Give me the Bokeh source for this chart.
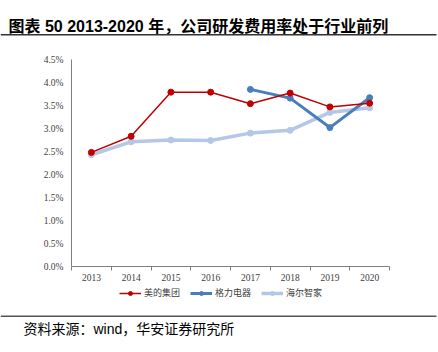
from bokeh.plotting import figure
from bokeh.models import (ColumnDataSource, Label, Legend, LegendItem, FixedTicker,
                          NumeralTickFormatter, Range1d, BoxAnnotation)
from bokeh.embed import file_html
from bokeh.resources import INLINE

years = [2013, 2014, 2015, 2016, 2017, 2018, 2019, 2020]
midea = [0.0248, 0.0283, 0.0379, 0.0379, 0.0354, 0.0377, 0.0347, 0.0355]
gree_years = [2017, 2018, 2019, 2020]
gree = [0.0385, 0.0366, 0.0302, 0.0367]
haier = [0.0243, 0.0271, 0.0275, 0.0274, 0.0290, 0.0296, 0.0335, 0.0345]
series_names = ["美的集团", "格力电器", "海尔智家"]
title_text = "图表 50 2013-2020 年，公司研发费用率处于行业前列"
source_text = "资料来源：wind，华安证券研究所"

W = 438
serif = "Liberation Serif"
cjk = "Noto Sans CJK SC"
mixed = "Liberation Sans, Noto Sans CJK SC"
c_midea, c_gree, c_haier = "#C00000", "#4A7EBB", "#B4C7E7"


def blank(h):
    f = figure(width=W, height=h, output_backend="svg", toolbar_location=None, title=None,
               x_axis_location=None, y_axis_location=None,
               x_range=Range1d(0, W), y_range=Range1d(0, h),
               min_border=0, min_border_left=0, min_border_right=0,
               min_border_top=0, min_border_bottom=0)
    f.outline_line_color = None
    f.grid.grid_line_color = None
    f.background_fill_color = "white"
    f.border_fill_color = "white"
    return f


# ---- top: title + rule
H1 = 38
top = blank(H1)
top.add_layout(Label(x=8, y=H1 - 25.5, x_units="screen", y_units="screen", text=title_text,
                     text_font=mixed, text_font_style="bold", text_font_size="16px",
                     text_color="black", text_baseline="middle"))
top.add_layout(BoxAnnotation(left=0, right=436, bottom=H1 - 35, top=H1 - 33.5,
                             fill_color="#333333", fill_alpha=1, line_color=None))

# ---- main chart
H2 = 248
FL, FR = 71, 389
p = figure(width=W, height=H2, output_backend="svg", toolbar_location=None, title=None,
           x_range=Range1d(2012.5, 2020.5), y_range=Range1d(0, 0.045),
           min_border_left=FL, min_border_right=W - FR,
           min_border_top=21, min_border_bottom=20)
p.outline_line_color = None
p.grid.grid_line_color = None
p.background_fill_color = "white"
p.border_fill_color = "white"

p.xaxis.ticker = FixedTicker(ticks=years, minor_ticks=[y - 0.5 for y in years] + [2020.5])
p.xaxis.major_tick_line_color = None
p.xaxis.major_tick_out = 2
p.xaxis.major_tick_in = 0
p.xaxis.minor_tick_line_color = "#7f7f7f"
p.xaxis.minor_tick_out = 4
p.xaxis.minor_tick_in = 0
p.xaxis.axis_line_color = "#7f7f7f"
p.xaxis.major_label_text_font = serif
p.xaxis.major_label_text_font_size = "9.5px"
p.xaxis.major_label_text_color = "#404040"
p.xaxis.major_label_standoff = 3

p.yaxis.ticker = FixedTicker(ticks=[i * 0.005 for i in range(10)])
p.yaxis.formatter = NumeralTickFormatter(format="0.0%")
p.yaxis.major_tick_line_color = None
p.yaxis.major_tick_out = 2
p.yaxis.major_tick_in = 0
p.yaxis.minor_tick_line_color = None
p.yaxis.axis_line_color = "#7f7f7f"
p.yaxis.major_label_text_font = serif
p.yaxis.major_label_text_font_size = "9.5px"
p.yaxis.major_label_text_color = "#404040"
p.yaxis.major_label_standoff = 6

s_m = ColumnDataSource(dict(x=years, y=midea))
s_g = ColumnDataSource(dict(x=gree_years, y=gree))
s_h = ColumnDataSource(dict(x=years, y=haier))

p.line("x", "y", source=s_h, line_color=c_haier, line_width=3.5)
p.scatter("x", "y", source=s_h, size=6, fill_color=c_haier, line_color=c_haier)
p.line("x", "y", source=s_g, line_color=c_gree, line_width=3)
p.scatter("x", "y", source=s_g, size=6, fill_color=c_gree, line_color=c_gree)
p.line("x", "y", source=s_m, line_color=c_midea, line_width=1.5)
p.scatter("x", "y", source=s_m, size=6, fill_color=c_midea, line_color=c_midea)

# ---- legend strip
H3 = 26
leg = blank(H3)
# legend proxies: the same series, lying outside this strip's visible range
styles = [(c_midea, 1.5, s_m), (c_gree, 3, s_g), (c_haier, 3.5, s_h)]
items = []
for name, (col, lw, src) in zip(series_names, styles):
    r1 = leg.line("x", "y", source=src, line_color=col, line_width=lw)
    r2 = leg.scatter("x", "y", source=src, size=5, fill_color=col, line_color=col)
    items.append(LegendItem(label=name, renderers=[r1, r2]))
legend = Legend(items=items, orientation="horizontal", location=(119, H3 - 13),
                glyph_width=22, glyph_height=10, label_standoff=3, spacing=10,
                padding=0, margin=0, border_line_color=None, background_fill_alpha=0,
                label_text_font=cjk, label_text_font_size="9px", label_text_color="#404040",
                label_height=10)
leg.add_layout(legend, "center")

# ---- source strip: rule + source text
H4 = 352 - H1 - H2 - H3
bot = blank(H4)
bot.add_layout(BoxAnnotation(left=0, right=436, bottom=H4 - 4.5, top=H4 - 3,
                             fill_color="#555555", fill_alpha=1, line_color=None))
bot.add_layout(Label(x=23, y=H4 - 16, x_units="screen", y_units="screen", text=source_text,
                     text_font=mixed, text_font_size="14px", text_color="black",
                     text_baseline="middle"))

open("out.html", "w").write(file_html([top, p, leg, bot], INLINE))
